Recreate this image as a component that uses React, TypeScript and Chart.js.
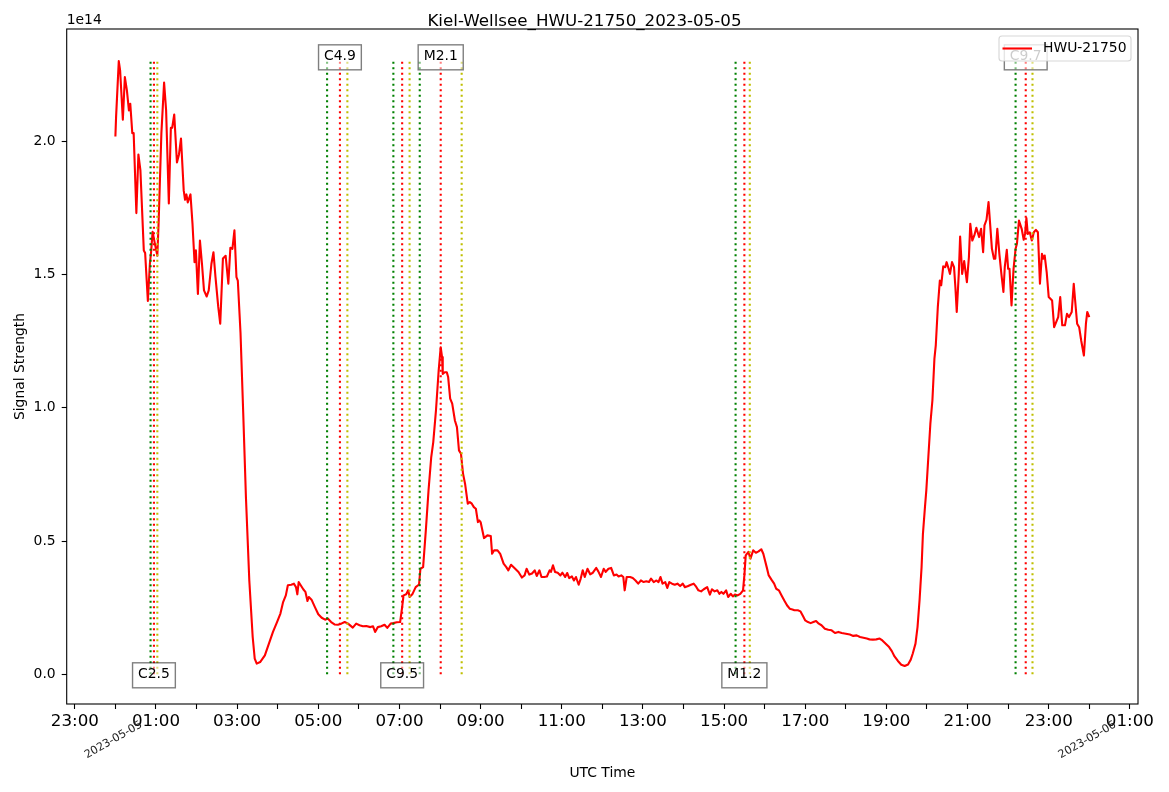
import React, { useEffect, useRef } from 'react';
import { Chart, registerables } from 'chart.js';

Chart.register(...registerables);

const TITLE = 'Kiel-Wellsee_HWU-21750_2023-05-05';
const SERIES_NAME = 'HWU-21750';
const Y_LABEL = 'Signal Strength';
const X_LABEL = 'UTC Time';
const OFFSET_LABEL = '1e14';
const SIGNAL_SCALE = 1e14;

// minutes after 2023-05-05 00:00 UTC
const timeMin = [
  0, 1, 5, 7, 11, 14, 17, 20, 22, 25, 27, 31, 34, 37, 42, 44, 48, 51, 53, 55,
  58, 62, 64, 68, 72, 75, 79, 82, 84, 87, 91, 94, 97, 101, 103, 105, 107, 111, 114, 117,
  119, 122, 125, 128, 131, 135, 138, 142, 145, 148, 152, 155, 159, 163, 167, 170, 173, 176, 179, 181,
  185,
  189, 193, 198, 203, 206, 209, 214, 221, 227, 233, 239, 244, 248, 252, 255, 260, 264, 267, 269, 271,
  274, 278, 281, 284, 286, 290, 295, 300, 305, 310, 314, 319, 324, 329, 334, 339, 344, 351, 356, 361,
  366, 371, 377, 381, 384, 388, 393, 398, 402, 407, 411, 416, 421, 424, 426, 430, 433, 435, 439, 444,
  449, 451, 455, 459, 463, 467, 470, 474, 478, 481, 483, 484, 487, 490, 492, 495, 498, 502, 505, 508,
  511, 514, 517, 521, 524, 527, 530, 533, 536, 538,
  540, 545, 550, 555, 557, 560, 565, 569, 574, 578, 581, 585, 590, 596, 601, 605, 608, 612, 616, 620,
  623, 627, 630, 634, 638, 642, 644, 647, 650, 654, 658, 661, 665, 668, 671, 675, 678, 681, 685, 688,
  691, 694, 698, 702, 706, 711, 714, 718, 722, 725, 729, 733, 737, 741, 744, 748, 751, 753, 756, 761,
  765, 769, 773, 777, 781, 785, 789, 792, 796, 800, 803, 806, 809, 813, 816, 819, 823, 827, 831, 835,
  839, 842, 846, 851, 855, 858, 862, 866, 870, 875, 879, 882, 886, 890, 893, 896, 899, 903, 906, 910,
  913, 916, 920, 924, 928, 930, 932, 936, 939, 943, 947, 951, 955, 958, 963,
  966, 970, 974, 977, 981, 985, 989, 993, 997, 1001, 1004, 1009, 1013, 1017, 1020, 1024, 1028, 1032, 1036, 1040,
  1044, 1049, 1054, 1059, 1064, 1069, 1074, 1080, 1086, 1091, 1096, 1101, 1106, 1111, 1115, 1120, 1125, 1130, 1134, 1139,
  1144, 1148, 1152, 1157, 1162, 1167, 1172, 1176, 1179, 1183, 1186, 1189, 1192, 1194, 1197, 1199, 1202, 1205, 1208,
  1211, 1213, 1216, 1219, 1221, 1224, 1227, 1229, 1232, 1234, 1237, 1240, 1242, 1244, 1247, 1249, 1252, 1255, 1259, 1262,
  1264, 1267, 1270, 1273, 1277, 1280, 1283, 1285, 1288, 1291, 1293, 1296, 1299, 1301, 1304, 1307, 1310, 1313, 1315, 1318,
  1320, 1322, 1325, 1328, 1331, 1333, 1336, 1340, 1343, 1345, 1347, 1349, 1352, 1355, 1358, 1361, 1364, 1367, 1370, 1372,
  1374, 1377, 1380, 1385, 1388, 1391, 1394, 1397, 1400, 1404, 1407, 1410, 1414, 1417, 1418, 1422, 1425, 1428, 1432, 1435,
  1437, 1440,
];

// signal strength in units of 1e14
const signal = [
  2.017, 2.09, 2.3, 2.265, 2.08, 2.24, 2.19, 2.115, 2.14, 2.03, 2.03, 1.73, 1.95, 1.89, 1.59, 1.58, 1.4, 1.54, 1.59, 1.66,
  1.62, 1.57, 1.7, 2.03, 2.22, 2.115, 1.766, 2.05, 2.05, 2.1, 1.92, 1.95, 2.01, 1.815, 1.78, 1.8, 1.77, 1.8, 1.69, 1.546,
  1.59, 1.427, 1.627, 1.54, 1.44, 1.417, 1.44, 1.54, 1.583, 1.49, 1.38, 1.315, 1.56, 1.57, 1.465, 1.6, 1.596, 1.665, 1.49, 1.477,
  1.28,
  0.98, 0.665, 0.352, 0.14, 0.059, 0.04, 0.046, 0.071, 0.115, 0.159, 0.196, 0.228, 0.271, 0.296, 0.334, 0.336, 0.34, 0.327, 0.3, 0.346,
  0.334, 0.318, 0.309, 0.275, 0.29, 0.28, 0.252, 0.225, 0.212, 0.205, 0.209, 0.196, 0.187, 0.186, 0.19, 0.196, 0.19, 0.175, 0.19, 0.184,
  0.18, 0.181, 0.177, 0.18, 0.159, 0.177, 0.18, 0.186, 0.174, 0.19, 0.192, 0.195, 0.196, 0.252, 0.296, 0.3, 0.315, 0.29, 0.3, 0.327,
  0.337, 0.396, 0.402, 0.54, 0.69, 0.815, 0.871, 0.99, 1.14, 1.227, 1.19, 1.127, 1.133, 1.133, 1.115, 1.034, 1.015, 0.952, 0.927, 0.84,
  0.827, 0.752, 0.715, 0.64, 0.646, 0.64, 0.627, 0.621, 0.571, 0.577,
  0.571, 0.511, 0.521, 0.519, 0.452, 0.465, 0.465, 0.452, 0.415, 0.402, 0.39, 0.411, 0.399, 0.384, 0.363, 0.371, 0.396, 0.374, 0.378, 0.39,
  0.369, 0.39, 0.365, 0.365, 0.367, 0.39, 0.384, 0.409, 0.384, 0.381, 0.371, 0.381, 0.365, 0.38, 0.361, 0.367, 0.352, 0.365, 0.336, 0.359,
  0.39, 0.365, 0.396, 0.375, 0.381, 0.399, 0.386, 0.365, 0.396, 0.384, 0.396, 0.399, 0.371, 0.374, 0.367, 0.371, 0.365, 0.315, 0.365, 0.365,
  0.361, 0.352, 0.34, 0.352, 0.346, 0.349, 0.346, 0.359, 0.346, 0.352, 0.346, 0.365, 0.34, 0.346, 0.324, 0.346, 0.34, 0.336, 0.34, 0.331,
  0.34, 0.327, 0.33, 0.336, 0.34, 0.331, 0.315, 0.311, 0.319, 0.327, 0.299, 0.319, 0.311, 0.315, 0.302, 0.309, 0.302, 0.315, 0.29, 0.302,
  0.292, 0.299, 0.296, 0.302, 0.315, 0.371, 0.446, 0.459, 0.434, 0.465, 0.456, 0.461, 0.469, 0.452, 0.402,
  0.371, 0.355, 0.34, 0.321, 0.315, 0.296, 0.277, 0.259, 0.246, 0.243, 0.24, 0.24, 0.236, 0.217, 0.202, 0.196, 0.192, 0.196, 0.2, 0.19,
  0.184, 0.171, 0.167, 0.165, 0.155, 0.159, 0.155, 0.152, 0.149, 0.144, 0.146, 0.14, 0.137, 0.134, 0.131, 0.13, 0.131, 0.134, 0.127, 0.115,
  0.102, 0.087, 0.067, 0.05, 0.036, 0.031, 0.037, 0.055, 0.078, 0.115, 0.177, 0.277, 0.402, 0.527, 0.627, 0.69, 0.815, 0.94, 1.027,
  1.184, 1.234, 1.377, 1.477, 1.459, 1.53, 1.527, 1.546, 1.521, 1.502, 1.546, 1.527, 1.452, 1.359, 1.502, 1.642, 1.502, 1.55, 1.471, 1.565,
  1.69, 1.627, 1.646, 1.675, 1.64, 1.671, 1.583, 1.684, 1.705, 1.771, 1.702, 1.596, 1.559, 1.559, 1.671, 1.577, 1.502, 1.434, 1.527, 1.592,
  1.521, 1.521, 1.384, 1.521, 1.596, 1.615, 1.702, 1.671, 1.63, 1.652, 1.711, 1.652, 1.658, 1.627, 1.658, 1.667, 1.658, 1.465, 1.577, 1.559,
  1.571, 1.508, 1.415, 1.402, 1.302, 1.321, 1.34, 1.415, 1.309, 1.309, 1.352, 1.34, 1.359, 1.465, 1.434, 1.315, 1.302, 1.252, 1.196, 1.315,
  1.359, 1.34,
];

const yTickValues = [0.0, 0.5, 1.0, 1.5, 2.0];
const Y_AXIS_MIN = -0.1114; // 1e14 units
const Y_AXIS_MAX = 2.4205;

const xTickMinutes = [
  -60, 0, 60, 120, 180, 240, 300, 360, 420, 480, 540, 600, 660, 720,
  780, 840, 900, 960, 1020, 1080, 1140, 1200, 1260, 1320, 1380, 1440, 1500,
];
const xTickLabels = [
  '23:00', '', '01:00', '', '03:00', '', '05:00', '', '07:00', '', '09:00', '', '11:00', '',
  '13:00', '', '15:00', '', '17:00', '', '19:00', '', '21:00', '', '23:00', '', '01:00',
];
const dateTickMinutes = [0, 1440];
const dateTickLabels = ['2023-05-05', '2023-05-06'];

const flareLabels = ['C2.5', 'C4.9', 'C9.5', 'M2.1', 'M1.2', 'C9.7'];
const flareStart = [52, 313, 411, 450, 917, 1331];
const flarePeak = [57, 332, 424, 481, 930, 1346];
const flareEnd = [62, 343, 435, 512, 938, 1356];
const flareLabelAtTop = [false, true, false, true, false, true];
const FLARE_LABEL_TOP = 2.318; // 1e14 units

const FONT = '"DejaVu Sans", "Liberation Sans", sans-serif';
const W = 1169;
const H = 792;

const vlineTop = Math.max(...signal);
const xSpan = timeMin[timeMin.length - 1] - timeMin[0];
const xMin = timeMin[0] - xSpan * 0.05;
const xMax = timeMin[timeMin.length - 1] + xSpan * 0.05;

const DOT = [2.1, 3.4];

function vline(t: number, color: string) {
  return {
    type: 'line' as const,
    data: [
      { x: t, y: 0 },
      { x: t, y: vlineTop * SIGNAL_SCALE },
    ],
    borderColor: color,
    borderWidth: 2.1,
    borderDash: DOT,
    borderCapStyle: 'butt' as const,
    pointRadius: 0,
    fill: false,
  };
}

const decorPlugin = {
  id: 'decor',
  afterDraw(chart: any) {
    const ctx: CanvasRenderingContext2D = chart.ctx;
    const area = chart.chartArea;
    const xs = chart.scales.x;
    const ys = chart.scales.y;
    ctx.save();

    // frame
    ctx.strokeStyle = '#000';
    ctx.lineWidth = 1.1;
    ctx.strokeRect(area.left, area.top, area.right - area.left, area.bottom - area.top);

    // flare labels
    ctx.font = `13.9px ${FONT}`;
    ctx.textAlign = 'center';
    ctx.textBaseline = 'middle';
    for (let i = 0; i < flareLabels.length; i++) {
      const label = flareLabels[i];
      const w = ctx.measureText(label).width;
      const cx = xs.getPixelForValue(flarePeak[i]);
      const cy = ys.getPixelForValue((flareLabelAtTop[i] ? FLARE_LABEL_TOP : 0) * SIGNAL_SCALE);
      const padX = 5.5;
      const bh = 25;
      const bx = cx - w / 2 - padX;
      const by = cy - bh / 2 + 1;
      ctx.fillStyle = 'rgba(255,255,255,0.5)';
      ctx.fillRect(bx, by, w + 2 * padX, bh);
      ctx.strokeStyle = 'rgba(0,0,0,0.5)';
      ctx.lineWidth = 1.4;
      ctx.strokeRect(bx, by, w + 2 * padX, bh);
      ctx.fillStyle = '#000';
      ctx.fillText(label, cx, cy);
    }

    // legend
    const lx1 = area.right - 7;
    const lx0 = lx1 - 132;
    const ly0 = area.top + 7;
    const lh = 25;
    ctx.beginPath();
    (ctx as any).roundRect(lx0, ly0, lx1 - lx0, lh, 3);
    ctx.fillStyle = 'rgba(255,255,255,0.8)';
    ctx.fill();
    ctx.strokeStyle = 'rgba(204,204,204,0.8)';
    ctx.lineWidth = 1.1;
    ctx.stroke();
    const lyc = ly0 + lh / 2;
    ctx.beginPath();
    ctx.moveTo(lx0 + 3.5, lyc);
    ctx.lineTo(lx0 + 33, lyc);
    ctx.strokeStyle = '#ff0000';
    ctx.lineWidth = 2.1;
    ctx.stroke();
    ctx.fillStyle = '#000';
    ctx.textAlign = 'left';
    ctx.textBaseline = 'middle';
    ctx.font = `13.9px ${FONT}`;
    ctx.fillText(SERIES_NAME, lx0 + 44, lyc);

    // title
    ctx.font = `16.7px ${FONT}`;
    ctx.textAlign = 'center';
    ctx.fillText(TITLE, W / 2, 22);

    // offset text
    ctx.font = `13.9px ${FONT}`;
    ctx.textAlign = 'left';
    ctx.fillText(OFFSET_LABEL, area.left, 20);

    // axis labels
    ctx.textAlign = 'center';
    ctx.fillText(X_LABEL, (area.left + area.right) / 2, 773);
    ctx.save();
    ctx.translate(20, (area.top + area.bottom) / 2);
    ctx.rotate(-Math.PI / 2);
    ctx.fillText(Y_LABEL, 0, 0);
    ctx.restore();

    // date labels
    ctx.font = `11.1px ${FONT}`;
    ctx.fillStyle = '#222';
    for (let i = 0; i < dateTickMinutes.length; i++) {
      const px = xs.getPixelForValue(dateTickMinutes[i]);
      ctx.save();
      ctx.translate(px - 2, 740);
      ctx.rotate(-Math.PI / 6);
      ctx.textAlign = 'center';
      ctx.textBaseline = 'middle';
      ctx.fillText(dateTickLabels[i], 0, 0);
      ctx.restore();
    }

    ctx.restore();
  },
};

export default function App() {
  const ref = useRef<HTMLCanvasElement>(null);

  useEffect(() => {
    document.body.style.margin = '0';
    const canvas = ref.current;
    if (!canvas) return;

    const flareSets: any[] = [];
    for (let i = 0; i < flareLabels.length; i++) {
      flareSets.push(vline(flareStart[i], '#008000'));
      flareSets.push(vline(flarePeak[i], '#ff0000'));
      flareSets.push(vline(flareEnd[i], '#bfbf00'));
    }

    const signalSet = {
      type: 'line' as const,
      label: SERIES_NAME,
      data: timeMin.map((t, i) => ({ x: t, y: signal[i] * SIGNAL_SCALE })),
      borderColor: '#ff0000',
      borderWidth: 2.1,
      borderJoinStyle: 'round' as const,
      pointRadius: 0,
      fill: false,
      tension: 0,
    };

    const tickGrid = {
      display: true,
      drawOnChartArea: false,
      drawTicks: true,
      tickLength: 5,
      tickColor: '#000',
      tickWidth: 1.1,
      color: '#000',
    };

    const chart = new Chart(canvas, {
      type: 'line',
      data: { datasets: [...flareSets, signalSet] },
      options: {
        responsive: false,
        animation: false,
        devicePixelRatio: 1,
        layout: { padding: { left: 0, top: 29, right: 31, bottom: 0 } },
        plugins: {
          legend: { display: false },
          title: { display: false },
          tooltip: { enabled: false },
        },
        scales: {
          x: {
            type: 'linear',
            min: xMin,
            max: xMax,
            afterBuildTicks: (scale: any) => {
              scale.ticks = xTickMinutes.map((v) => ({ value: v }));
            },
            afterFit: (scale: any) => {
              scale.height = 88;
            },
            ticks: {
              autoSkip: false,
              maxRotation: 0,
              minRotation: 0,
              padding: 3,
              color: '#000',
              font: { family: FONT, size: 16.7 },
              callback: (_v: any, index: number) => xTickLabels[index],
            },
            grid: tickGrid,
            border: { display: false },
          },
          y: {
            type: 'linear',
            min: Y_AXIS_MIN * SIGNAL_SCALE,
            max: Y_AXIS_MAX * SIGNAL_SCALE,
            afterBuildTicks: (scale: any) => {
              scale.ticks = yTickValues.map((v) => ({ value: v * SIGNAL_SCALE }));
            },
            afterFit: (scale: any) => {
              scale.width = 66.7;
            },
            ticks: {
              padding: 6,
              color: '#000',
              font: { family: FONT, size: 13.9 },
              callback: (v: any) => (Number(v) / SIGNAL_SCALE).toFixed(1),
            },
            grid: tickGrid,
            border: { display: false },
          },
        },
      },
      plugins: [decorPlugin],
    } as any);

    return () => chart.destroy();
  }, []);

  return (
    <div style={{ width: W, height: H, background: '#fff' }}>
      <canvas ref={ref} width={W} height={H} style={{ display: 'block', width: W, height: H }} />
    </div>
  );
}
